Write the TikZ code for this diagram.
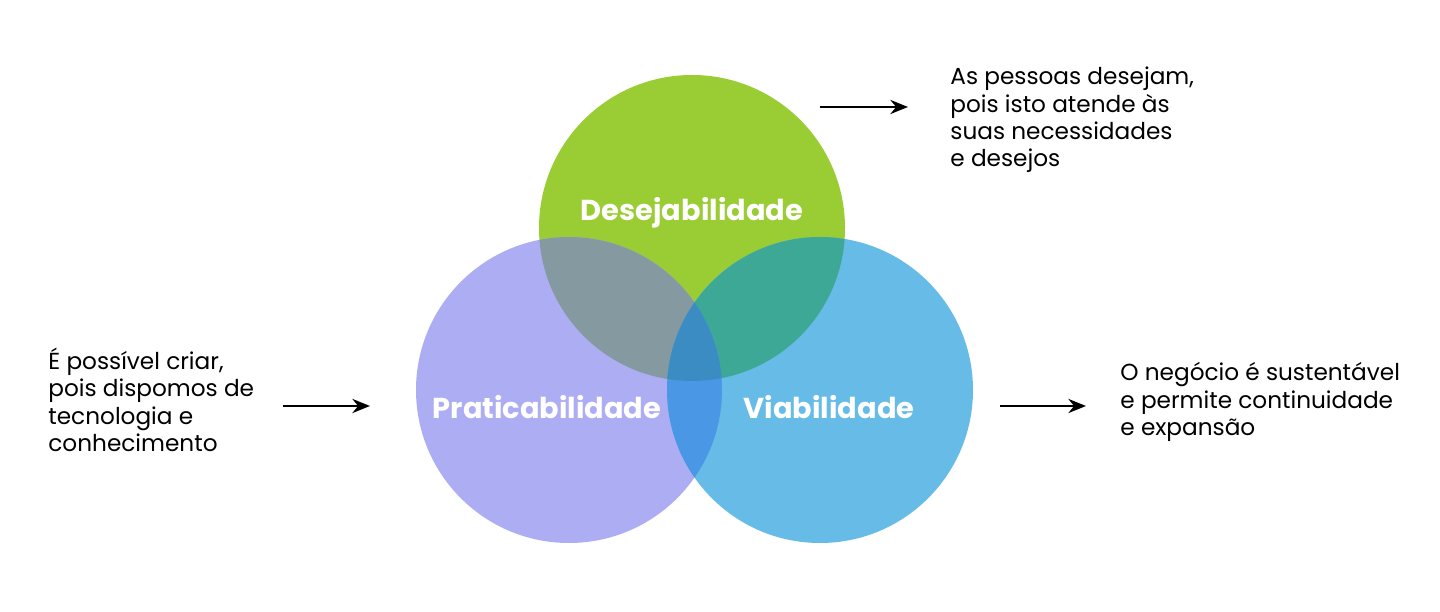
\documentclass[tikz,border=0pt]{standalone}
\usepackage{fontspec}
\setmainfont{Poppins}
\usetikzlibrary{arrows.meta}
\definecolor{desgreen}{RGB}{154,205,52}
\definecolor{pratpurple}{RGB}{173,173,243}
\definecolor{viablue}{RGB}{102,187,231}
\definecolor{gp}{RGB}{133,154,160}
\definecolor{gb}{RGB}{61,168,150}
\definecolor{pb}{RGB}{74,152,229}
\definecolor{gpb}{RGB}{60,140,196}
\tikzset{
    lbl/.style={text=white, font=\fontsize{8.2}{10}\selectfont\bfseries},
    note/.style={align=left, anchor=west, font=\fontsize{6.6}{7.8}\selectfont},
    arr/.style={-{Stealth[length=5pt,width=4pt]}, thick}
}
\begin{document}
\begin{tikzpicture}
    \useasboundingbox (0,0) rectangle (14.4,6.12);
    \def\rr{1.53}
    \coordinate (cd) at (6.92,3.84);
    \coordinate (cp) at (5.69,2.22);
    \coordinate (cv) at (8.20,2.22);
    \fill[desgreen] (cd) circle (\rr);
    \fill[pratpurple] (cp) circle (\rr);
    \fill[viablue] (cv) circle (\rr);
    % intersections
    \begin{scope}
        \clip (cd) circle (\rr);
        \fill[gp] (cp) circle (\rr);
        \fill[gb] (cv) circle (\rr);
    \end{scope}
    \begin{scope}
        \clip (cp) circle (\rr);
        \fill[pb] (cv) circle (\rr);
        \clip (cd) circle (\rr);
        \fill[gpb] (cv) circle (\rr);
    \end{scope}
    \node[lbl] (des) at (6.92,3.99) {Desejabilidade};
    \node[lbl] (prat) at (5.47,2.05) {Praticabilidade};
    \node[lbl] (via) at (8.29,2.05) {Viabilidade};
    \node[note] (ndes) at (9.38,4.92) {As pessoas desejam,\\pois isto atende às\\suas necessidades\\e desejos};
    \node[note] (nprat) at (0.36,2.12) {É possível criar,\\pois dispomos de\\tecnologia e\\conhecimento};
    \node[note] (nvia) at (11.08,2.10) {O negócio é sustentável\\e permite continuidade\\e expansão};
    \draw[arr] (8.20,5.05) -- (9.08,5.05);
    \draw[arr] (2.83,2.06) -- (3.70,2.06);
    \draw[arr] (10.00,2.06) -- (10.86,2.06);
\end{tikzpicture}
\end{document}
